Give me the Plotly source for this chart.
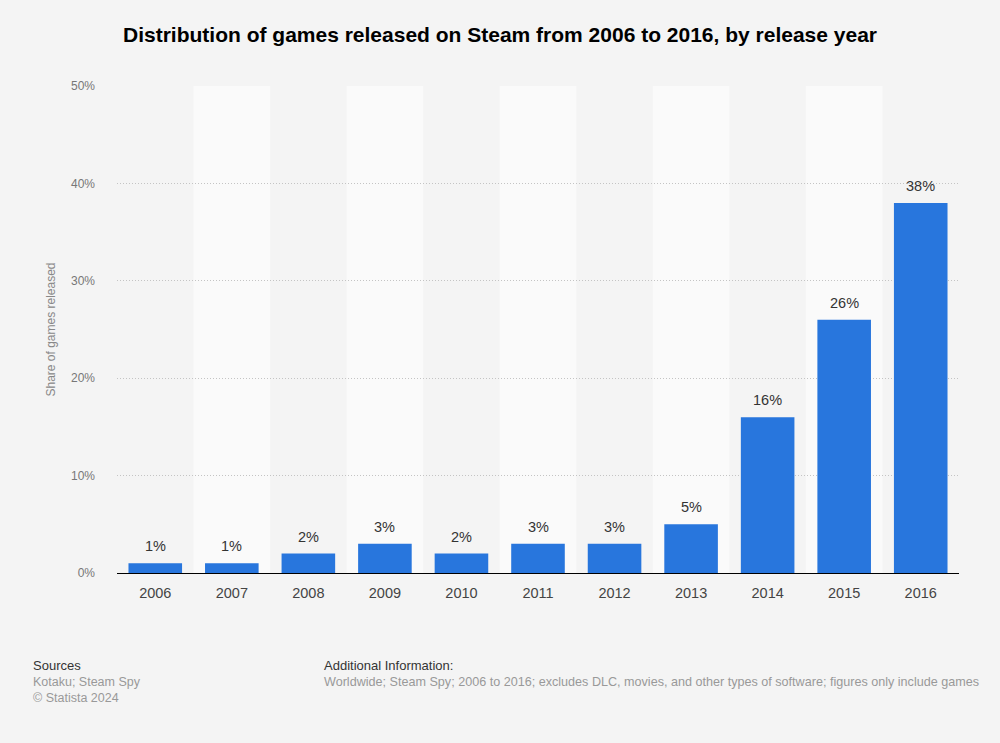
import plotly.graph_objects as go

years = ["2006", "2007", "2008", "2009", "2010", "2011", "2012", "2013", "2014", "2015", "2016"]
shares = [1, 1, 2, 3, 2, 3, 3, 5, 16, 26, 38]
y_ticks = [0, 10, 20, 30, 40, 50]
y_tick_labels = ["0%", "10%", "20%", "30%", "40%", "50%"]

FONT = "Liberation Sans, Arial, Helvetica, sans-serif"

fig = go.Figure()
fig.add_trace(go.Bar(
    x=years, y=shares,
    marker=dict(color="#2876dd", line=dict(width=0)),
    width=0.7,
    hoverinfo="skip",
))

for i, v in enumerate(shares):
    fig.add_annotation(x=i, y=v, xref="x", yref="y", text=f"{v}%", showarrow=False,
                       xanchor="center", yanchor="bottom", yshift=7,
                       font=dict(family=FONT, size=14.5, color="#333333"))

shapes = []
for i, yr in enumerate(years):
    if i % 2 == 1:
        shapes.append(dict(type="rect", xref="x", yref="paper",
                           x0=i - 0.5, x1=i + 0.5, y0=0, y1=1.0,
                           fillcolor="#fafafa", line=dict(width=0), layer="below"))

W, H = 1000, 743
L, R, T, B = 117, 41, 86, 170

fig.update_layout(
    width=W, height=H,
    paper_bgcolor="#f4f4f4", plot_bgcolor="#f4f4f4",
    margin=dict(l=L, r=R, t=T, b=B),
    showlegend=False,
    shapes=shapes,
    title=dict(text="<b>Distribution of games released on Steam from 2006 to 2016, by release year</b>",
               x=0.5, xanchor="center", y=1 - 35 / H, yanchor="middle",
               font=dict(family=FONT, size=21, color="#000000")),
    xaxis=dict(type="category", showgrid=False, ticks="",
               ticklabelstandoff=6,
               tickfont=dict(family=FONT, size=14.5, color="#444444"),
               showline=True, linecolor="#000000", linewidth=1.2,
               range=[-0.5, len(years) - 0.5]),
    yaxis=dict(range=[0, 50], tickvals=y_ticks, ticktext=y_tick_labels,
               showgrid=True, gridcolor="#c4c4c4", griddash="1px,2px", gridwidth=1,
               zeroline=False, showline=False, ticks="", ticklen=0,
               ticklabelstandoff=21,
               tickfont=dict(family=FONT, size=12, color="#777777"),
               title=dict(text="Share of games released", standoff=12,
                          font=dict(family=FONT, size=12, color="#888888"))),
)

ann = [
    dict(text="Sources", x=31, y=665, color="#333333", size=13),
    dict(text="Kotaku; Steam Spy", x=31, y=682, color="#999999", size=12.5),
    dict(text="© Statista 2024", x=31, y=698, color="#999999", size=12.5),
    dict(text="Additional Information:", x=322, y=665, color="#333333", size=13),
    dict(text="Worldwide; Steam Spy; 2006 to 2016; excludes DLC, movies, and other types of software; figures only include games",
         x=322, y=682, color="#999999", size=12.6),
]
for a in ann:
    fig.add_annotation(text=a["text"], xref="paper", yref="paper",
                       x=(a["x"] - L) / (W - L - R),
                       y=1 - (a["y"] - T) / (H - T - B),
                       xanchor="left", yanchor="middle", showarrow=False,
                       font=dict(family=FONT, size=a["size"], color=a["color"]))

fig.write_html("out.html", config={"displayModeBar": False},
               post_script="document.body.style.margin='0';document.body.style.background='#f4f4f4';")
